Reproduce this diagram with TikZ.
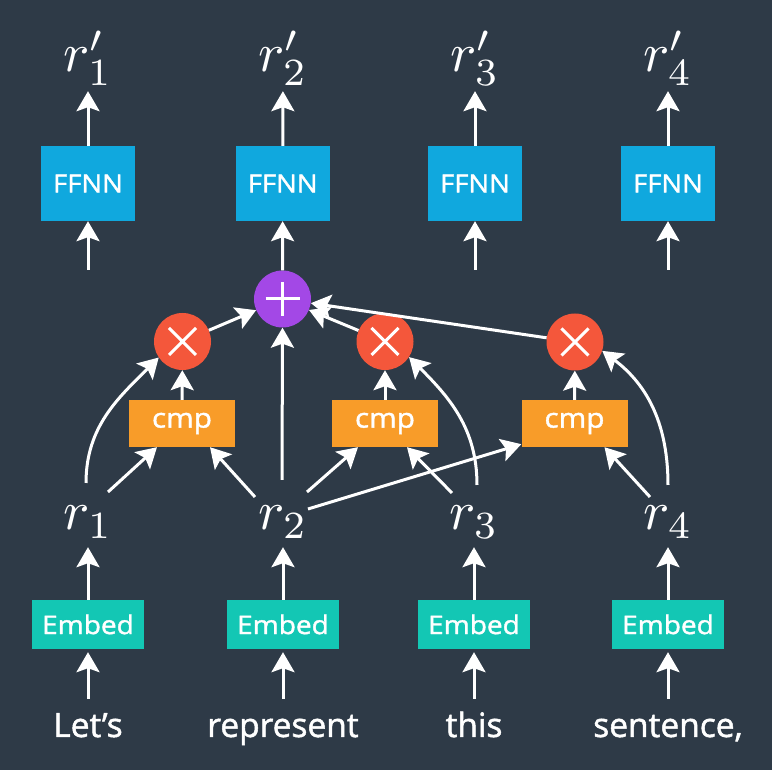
\documentclass[tikz,border=0pt]{standalone}
\usepackage[no-math]{fontspec}
\newfontfamily\osans{Open Sans}[FakeBold=1.5]
\newfontfamily\osansw{Open Sans}[FakeBold=1.5, FakeStretch=1.1]
\usetikzlibrary{arrows.meta,calc}
\definecolor{bg}{HTML}{2E3A47}
\definecolor{ffnnc}{HTML}{10A8DE}
\definecolor{cmpc}{HTML}{F89C29}
\definecolor{mulc}{HTML}{F4573B}
\definecolor{addc}{HTML}{A348E6}
\definecolor{embc}{HTML}{13C7B4}
\newcommand{\mybigmath}[1]{\scalebox{5.5}{$#1$}}
\tikzset{
  arr/.style={-{Stealth[length=20pt,width=23pt,inset=4pt]}, line width=3pt, draw=white},
  embbox/.style={fill=embc, minimum width=112pt, minimum height=49pt, inner sep=0pt, text=white, font=\osansw\fontsize{25.5}{28}\selectfont},
  cmpbox/.style={fill=cmpc, minimum width=106pt, minimum height=47pt, inner sep=0pt, text=white, font=\osansw\fontsize{27}{30}\selectfont},
  ffnnbox/.style={fill=ffnnc, minimum width=94pt, minimum height=75pt, inner sep=0pt, text=white, font=\osansw\fontsize{25}{28}\selectfont},
  word/.style={text=white, inner sep=0pt, anchor=base, text height=22pt, text depth=7pt, font=\osans\fontsize{33.5}{36}\selectfont},
  rlab/.style={text=white, inner sep=0pt, anchor=base, text depth=8pt, font=\fontsize{10}{12}\selectfont},
  mulnode/.style={circle, fill=mulc, minimum size=57pt, inner sep=0pt,
    path picture={\draw[white, line width=3pt] ($(path picture bounding box.center)+(-13.5,-13.5)$) -- ($(path picture bounding box.center)+(13.5,13.5)$)
      ($(path picture bounding box.center)+(-13.5,13.5)$) -- ($(path picture bounding box.center)+(13.5,-13.5)$);}},
  addnode/.style={circle, fill=addc, minimum size=57pt, inner sep=0pt,
    path picture={\draw[white, line width=3pt] ($(path picture bounding box.center)+(-17,0)$) -- ($(path picture bounding box.center)+(17,0)$)
      ($(path picture bounding box.center)+(0,-17)$) -- ($(path picture bounding box.center)+(0,17)$);}},
}
\begin{document}
\begin{tikzpicture}[x=1pt,y=1pt]
\fill[bg] (0,0) rectangle (772,770);
\useasboundingbox (0,0) rectangle (772,770);
% words
\node[word] (w1) at (88,33) {Let’s};
\node[word] (w2) at (283,33) {represent};
\node[word] (w3) at (474,33) {this};
\node[word] (w4) at (668,33) {sentence,};
% embed
\node[embbox] (e1) at (88,145.5) {Embed};
\node[embbox] (e2) at (283,145.5) {Embed};
\node[embbox] (e3) at (474,145.5) {Embed};
\node[embbox] (e4) at (668,145.5) {Embed};
% r labels
\node[rlab] (r1) at (88,240) {\mybigmath{r_1}};
\node[rlab] (r2) at (283,240) {\mybigmath{r_2}};
\node[rlab] (r3) at (474,240) {\mybigmath{r_3}};
\node[rlab] (r4) at (668,240) {\mybigmath{r_4}};
% cmp
\node[cmpbox] (c1) at (182,346.5) {cmp};
\node[cmpbox] (c2) at (385,346.5) {cmp};
\node[cmpbox] (c3) at (574.5,346.5) {cmp};
% mul
\node[mulnode] (m1) at (182.5,428.5) {};
\node[mulnode] (m2) at (385,428.5) {};
\node[mulnode] (m3) at (575,428) {};
% add
\node[addnode] (p) at (282.5,471) {};
% ffnn
\node[ffnnbox] (f1) at (88,586.5) {FFNN};
\node[ffnnbox] (f2) at (282.7,586.5) {FFNN};
\node[ffnnbox] (f3) at (475,586.5) {FFNN};
\node[ffnnbox] (f4) at (668,586.5) {FFNN};
% r'
\node[rlab] (q1) at (88,698) {\mybigmath{r'_1}};
\node[rlab] (q2) at (283,698) {\mybigmath{r'_2}};
\node[rlab] (q3) at (475,698) {\mybigmath{r'_3}};
\node[rlab] (q4) at (668,698) {\mybigmath{r'_4}};
% free starts
\coordinate (s1) at (88,500);
\coordinate (s3) at (475,500);
\coordinate (s4) at (668,500);
% word -> embed
\foreach \i in {1,...,4} {
  \draw[arr, shorten <=16pt, shorten >=3pt] (w\i) -- (e\i);
  \draw[arr, shorten >=9pt] (e\i) -- (r\i);
  \draw[arr, shorten >=11pt] (f\i) -- (q\i);
}
\draw[arr] (s1) -- (f1.south);
\draw[arr] (p) -- (f2);
\draw[arr] (s3) -- (f3.south);
\draw[arr] (s4) -- (f4.south);
% r -> cmp
\draw[arr] ($(r1.base)+(20,38)$) -- ($(c1.south)+(-25,0)$);
\draw[arr] ($(r2.base)+(-28,33)$) -- ($(c1.south)+(28,0)$);
\draw[arr] ($(r2.base)+(24,38)$) -- ($(c2.south)+(-27,0)$);
\draw[arr] ($(r3.base)+(-22,37)$) -- ($(c2.south)+(22,0)$);
\draw[arr] ($(r2.base)+(25,21)$) -- ($(c3.south west)+(0,3)$);
\draw[arr] ($(r4.base)+(-18,33)$) -- ($(c3.south)+(30,0)$);
% r2 -> add
\draw[arr] ($(r2.base)+(-1,50)$) -- (p.south);
% cmp -> mul
\draw[arr] (c1) -- (m1);
\draw[arr] (c2) -- (m2);
\draw[arr] (c3) -- (m3);
% r -> mul curves
\draw[arr] ($(r1.base)+(-2,47)$) to[out=90, in=225] (m1.214);
\draw[arr] ($(r3.base)+(3,45)$) to[out=90, in=-45] (m2.-33);
\draw[arr] ($(r4.base)+(0,45)$) to[out=90, in=-37] (m3.-18);
% mul -> add
\draw[arr] (m1) -- (p);
\draw[arr] (m2) -- (p);
\draw[arr] (m3) -- (p);
\end{tikzpicture}
\end{document}
